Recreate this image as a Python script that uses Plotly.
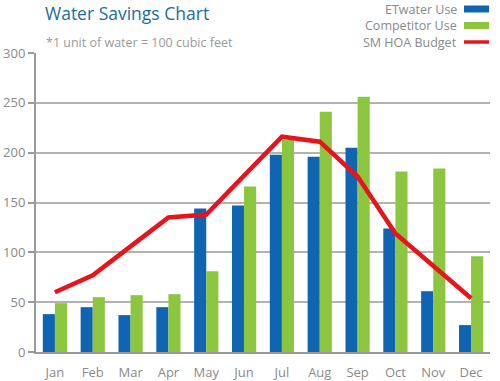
import plotly.graph_objects as go

months = ["Jan", "Feb", "Mar", "Apr", "May", "Jun", "Jul", "Aug", "Sep", "Oct", "Nov", "Dec"]
etwater_use = [38, 45, 37, 45, 144, 147, 198, 196, 205, 124, 61, 27]
competitor_use = [49, 55, 57, 58, 81, 166, 213, 241, 256, 181, 184, 96]
hoa_budget = [60, 77, 106, 135, 138, 177, 216, 211, 176, 119, 86, 54]
y_ticks = [0, 50, 100, 150, 200, 250, 300]

BLUE = "#0f65b2"
GREEN = "#8cc63e"
RED = "#e8131b"
GRAY_TXT = "#8a8a8a"
GRID = "#b3b3b3"
FONT = "Open Sans"

W, H = 500, 381
# plot area in window pixels: x 36..490, y 53..352
ML, MR, MT, MB = 36, 500 - 490, 53, 381 - 352


def px(x):
    return (x - ML) / (W - ML - MR)


def py(y):
    return (H - MB - y) / (H - MT - MB)


fig = go.Figure()
fig.add_trace(go.Bar(x=months, y=etwater_use, name="ETwater Use", marker_color=BLUE,
                     marker_line_width=0))
fig.add_trace(go.Bar(x=months, y=competitor_use, name="Competitor Use", marker_color=GREEN,
                     marker_line_width=0))
fig.add_trace(go.Scatter(x=months, y=hoa_budget, name="SM HOA Budget", mode="lines",
                         line=dict(color=RED, width=4.5)))

annotations = [
    dict(text="Water Savings Chart", x=px(44), y=py(13), xref="paper", yref="paper",
         xanchor="left", yanchor="middle", showarrow=False, borderpad=0,
         font=dict(family=FONT, size=17.5, color="#1c6d9f")),
    dict(text="*1 unit of water = 100 cubic feet", x=px(45), y=py(42), xref="paper", yref="paper",
         xanchor="left", yanchor="middle", showarrow=False, borderpad=0,
         font=dict(family=FONT, size=12.5, color="#9a9a9a")),
]
shapes = []
legend_rows = [("ETwater Use", BLUE, 9, "bar"), ("Competitor Use", GREEN, 25.5, "bar"),
               ("SM HOA Budget", RED, 42, "line")]
for label, col, ypos, kind in legend_rows:
    annotations.append(dict(text=label, x=px(458), y=py(ypos), xref="paper", yref="paper",
                            xanchor="right", yanchor="middle", showarrow=False, borderpad=0,
                            font=dict(family=FONT, size=12.5, color=GRAY_TXT)))
    if kind == "bar":
        shapes.append(dict(type="rect", xref="paper", yref="paper", x0=px(464), x1=px(489),
                           y0=py(ypos - 3.5), y1=py(ypos + 3.5), fillcolor=col, line_width=0))
    else:
        shapes.append(dict(type="line", xref="paper", yref="paper", x0=px(464), x1=px(489),
                           y0=py(ypos), y1=py(ypos), line=dict(color=col, width=3.5)))

fig.update_layout(
    width=W, height=H,
    margin=dict(l=ML, r=MR, t=MT, b=MB, pad=0, autoexpand=False),
    paper_bgcolor="white", plot_bgcolor="white",
    showlegend=False,
    barmode="group", bargap=0.36, bargroupgap=0,
    font=dict(family=FONT, size=12.5, color=GRAY_TXT),
    annotations=annotations, shapes=shapes,
    xaxis=dict(showgrid=False, showline=True, linecolor="#9a9a9a", linewidth=2, automargin=False,
               ticks="", tickfont=dict(size=13, color=GRAY_TXT), ticklabelstandoff=7),
    yaxis=dict(range=[0, 300], tickvals=y_ticks, showgrid=True, gridcolor=GRID, gridwidth=1.5,
               showline=True, linecolor="#9a9a9a", linewidth=2, ticks="outside", ticklen=6,
               tickcolor="#9a9a9a", tickwidth=1.5, zeroline=False, automargin=False,
               tickfont=dict(size=13, color=GRAY_TXT)),
)

# remove the browser's default 8px body margin so the figure sits at the window origin
fig.write_html("out.html", config={"displayModeBar": False},
               post_script="document.body.style.margin='0';document.body.style.overflow='hidden';")
